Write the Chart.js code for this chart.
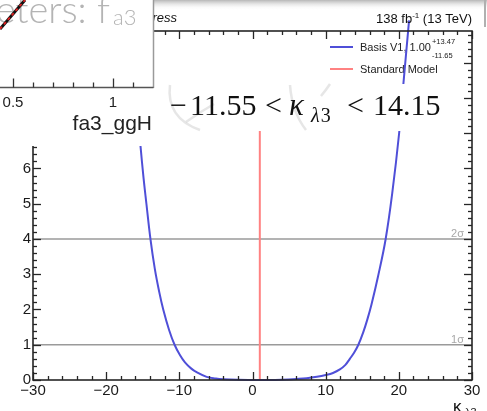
<!DOCTYPE html>
<html>
<head>
<meta charset="utf-8">
<script src="https://cdn.jsdelivr.net/npm/chart.js@4/dist/chart.umd.min.js"></script>
<style>
  html, body { margin: 0; padding: 0; background: #fff; }
  #wrap { width: 487px; height: 411px; position: relative; overflow: hidden; }
</style>
</head>
<body>
<div id="wrap"><canvas id="scan" width="487" height="411"></canvas></div>
<script>
// Likelihood scan of the trilinear coupling modifier: 2ΔNLL versus κλ3
const kappaL3 = [-15.45, -15.3, -14.9, -14.5, -13.95, -13.35, -12.75, -12.2, -11.4, -10.65, -9.9, -9.23, -8.4, -7.64,
                 -6.27, -5.0, -4.0, -2.0, 0.0, 1.0, 2.0, 4.0, 6.0, 7.4, 8.8, 10.0, 11.0, 11.94, 12.7, 13.3, 13.9,
                 14.47, 15.13, 15.7, 16.27, 17.17, 18.2, 19.1, 20.04, 20.58, 21.4];
const twoDeltaNLL = [7.0, 6.62, 5.75, 5.0, 4.0, 3.15, 2.5, 2.0, 1.42, 1.0, 0.7, 0.5, 0.33, 0.22,
                     0.09, 0.04, 0.02, 0.004, 0.0, 0.0, 0.0, 0.01, 0.03, 0.05, 0.09, 0.14, 0.2, 0.3, 0.43, 0.6, 0.78,
                     1.0, 1.35, 1.72, 2.15, 2.95, 4.0, 5.3, 7.0, 8.3, 10.2];

const xTickValues = [-30, -20, -10, 0, 10, 20, 30];
const yTickValues = [0, 1, 2, 3, 4, 5, 6, 7, 8, 9];

const sigmaLevels = [1, 4];
const sigmaLabels = ['1σ', '2σ'];

const smKappa = 1;
const smSpan = [0, 7.5];

const legendLabels = ['Basis V1, 1.00', 'Standard Model'];
const bestFitErrors = ['+13.47', '-11.65'];

const intervalLow = '−11.55';
const intervalHigh = '14.15';

const insetTickValues = [0.5, 1];
const insetTickLabels = ['0.5', '1'];
const insetAxisTitle = 'fa3_ggH';

const BLUE = '#4f4fd8';
const RED = '#ff8282';
const SANS = '"Liberation Sans", Arial, Helvetica, sans-serif';
const SERIF = '"Liberation Serif", "Times New Roman", serif';

function line(ctx, x1, y1, x2, y2) {
  ctx.beginPath(); ctx.moveTo(x1, y1); ctx.lineTo(x2, y2); ctx.stroke();
}

// ROOT-style frame with inward ticks on all four sides
function drawFrame(chart) {
  const { ctx, chartArea: a, scales: { x, y } } = chart;
  ctx.save();
  ctx.strokeStyle = '#262626';
  ctx.lineWidth = 1.6;
  ctx.strokeRect(a.left, a.top, a.right - a.left, a.bottom - a.top);
  ctx.lineWidth = 1.3;
  for (let v = x.min; v <= x.max + 1e-9; v += 2) {
    const px = Math.round(x.getPixelForValue(v)) + 0.5;
    const len = Math.abs(v % 10) < 1e-9 ? 8 : 4;
    line(ctx, px, a.bottom, px, a.bottom - len);
    line(ctx, px, a.top, px, a.top + len);
  }
  for (let i = 0; ; i++) {
    const v = i * 0.2;
    if (v > y.max + 1e-9) break;
    const py = Math.round(y.getPixelForValue(v)) + 0.5;
    const len = i % 5 === 0 ? 8 : 4;
    line(ctx, a.left, py, a.left + len, py);
    line(ctx, a.right, py, a.right - len, py);
  }
  // 1σ / 2σ tags
  ctx.fillStyle = '#a8a8a8';
  ctx.font = '11px ' + SANS;
  ctx.textAlign = 'right';
  ctx.textBaseline = 'alphabetic';
  sigmaLevels.forEach((lv, i) => {
    ctx.fillText(sigmaLabels[i], 464, y.getPixelForValue(lv) - 2);
  });
  ctx.restore();
}

function drawLegend(ctx) {
  ctx.save();
  ctx.lineWidth = 2;
  ctx.strokeStyle = BLUE;
  line(ctx, 330, 47, 353, 47);
  ctx.strokeStyle = RED;
  line(ctx, 330, 69, 353, 69);
  ctx.fillStyle = '#222';
  ctx.textAlign = 'left';
  ctx.textBaseline = 'alphabetic';
  ctx.font = '11px ' + SANS;
  ctx.fillText(legendLabels[0], 360, 50.5);
  const w = ctx.measureText(legendLabels[0]).width;
  ctx.fillText(legendLabels[1], 360, 73);
  ctx.font = '7.5px ' + SANS;
  ctx.fillText(bestFitErrors[0], 360 + w + 1, 43.5);
  ctx.fillText(bestFitErrors[1], 360 + w + 1, 57.5);
  ctx.restore();
}

function drawHeader(ctx) {
  ctx.save();
  // soft shadow strip along the top edge
  const g = ctx.createLinearGradient(0, 0, 0, 10);
  g.addColorStop(0, 'rgba(170,170,170,0.85)');
  g.addColorStop(1, 'rgba(255,255,255,0)');
  ctx.fillStyle = g;
  ctx.fillRect(153, 0, 334, 10);
  ctx.strokeStyle = '#b0b0b0';
  ctx.lineWidth = 2;
  line(ctx, 485, 0, 485, 27);

  ctx.fillStyle = '#111';
  ctx.textBaseline = 'alphabetic';
  ctx.textAlign = 'right';
  ctx.font = 'italic 13px ' + SANS;
  ctx.fillText('Work in progress', 177, 22);

  ctx.textAlign = 'left';
  const p1 = '138 fb', sup = '-1', p2 = ' (13 TeV)';
  ctx.font = '13px ' + SANS;
  const w1 = ctx.measureText(p1).width, w3 = ctx.measureText(p2).width;
  ctx.font = '8px ' + SANS;
  const w2 = ctx.measureText(sup).width;
  let x0 = 472 - (w1 + w2 + w3);
  ctx.font = '13px ' + SANS;
  ctx.fillText(p1, x0, 23);
  ctx.font = '8px ' + SANS;
  ctx.fillText(sup, x0 + w1, 18);
  ctx.font = '13px ' + SANS;
  ctx.fillText(p2, x0 + w1 + w2, 23);

  // x-axis title κλ3
  ctx.font = '17px ' + SANS;
  ctx.fillText('κ', 453, 411.5);
  ctx.font = '11px ' + SANS;
  ctx.fillText('λ3', 465, 416);
  ctx.restore();
}

function drawInterval(ctx) {
  ctx.save();
  ctx.fillStyle = '#fff';
  ctx.fillRect(153, 84, 309, 47);
  // faint strokes behind the formula
  ctx.strokeStyle = 'rgba(205,205,205,0.5)';
  ctx.lineWidth = 2.5;
  ctx.beginPath(); ctx.moveTo(170, 85); ctx.quadraticCurveTo(166, 118, 200, 130); ctx.stroke();
  ctx.beginPath(); ctx.moveTo(186, 122); ctx.quadraticCurveTo(200, 112, 214, 104); ctx.stroke();
  ctx.beginPath(); ctx.moveTo(290, 85); ctx.quadraticCurveTo(292, 112, 306, 130); ctx.stroke();
  ctx.beginPath(); ctx.moveTo(330, 84); ctx.quadraticCurveTo(326, 90, 321, 96); ctx.stroke();

  ctx.fillStyle = '#111';
  ctx.textAlign = 'left';
  ctx.textBaseline = 'alphabetic';
  ctx.font = '30px ' + SERIF;
  ctx.fillText(intervalLow.charAt(0), 170, 115);
  ctx.fillText(intervalLow.slice(1), 190, 115);
  ctx.fillText('<', 265, 115);
  ctx.font = 'italic 31px ' + SERIF;
  ctx.fillText('κ', 289, 115);
  ctx.font = 'italic 20px ' + SERIF;
  ctx.fillText('λ', 311, 121.5);
  const wl = ctx.measureText('λ').width;
  ctx.font = '20px ' + SERIF;
  ctx.fillText('3', 312 + wl, 121.5);
  ctx.font = '30px ' + SERIF;
  ctx.fillText('<', 347, 115);
  ctx.fillText(intervalHigh, 373, 115);
  ctx.restore();
}

function drawInset(ctx) {
  ctx.save();
  ctx.fillStyle = '#fff';
  ctx.fillRect(0, 0, 153, 146);

  // big grey heading of the neighbouring panel
  ctx.fillStyle = '#b4b4b4';
  ctx.textBaseline = 'alphabetic';
  ctx.textAlign = 'right';
  ctx.font = '300 38px Lato, "Open Sans", sans-serif';
  ctx.fillText('Parameters: f', 110, 23);
  ctx.textAlign = 'left';
  ctx.font = '300 22px Lato, "Open Sans", sans-serif';
  ctx.fillText('a3', 113, 25);

  // diagonal scan line in the corner
  ctx.lineWidth = 3;
  ctx.strokeStyle = '#111';
  line(ctx, 0, 29, 25, 0);
  ctx.lineWidth = 1.8;
  ctx.strokeStyle = '#e02020';
  ctx.setLineDash([3, 3]);
  line(ctx, 0, 29, 25, 0);
  ctx.setLineDash([]);

  // frame pieces and axis
  ctx.strokeStyle = '#9a9a9a';
  ctx.lineWidth = 1.5;
  line(ctx, 153.5, 0, 153.5, 88);
  ctx.strokeStyle = '#555';
  line(ctx, 0, 87.5, 153.5, 87.5);
  const px = v => (v - 0.435) * 200;
  ctx.strokeStyle = '#333';
  ctx.lineWidth = 1.3;
  for (let v = 0.4; v <= 1.2 + 1e-9; v += 0.1) {
    const p = Math.round(px(v)) + 0.5;
    if (p < 0 || p > 152) continue;
    const major = insetTickValues.some(t => Math.abs(t - v) < 1e-6);
    line(ctx, p, 87.5, p, 87.5 - (major ? 9 : 5));
  }
  ctx.fillStyle = '#222';
  ctx.font = '15px ' + SANS;
  ctx.textAlign = 'center';
  insetTickValues.forEach((v, i) => ctx.fillText(insetTickLabels[i], px(v), 107));
  ctx.textAlign = 'right';
  ctx.font = '21px ' + SANS;
  ctx.fillText(insetAxisTitle, 152, 130);
  ctx.restore();
}

const decorations = {
  id: 'decorations',
  beforeDatasetsDraw(chart) { drawLegend(chart.ctx); },
  afterDatasetsDraw(chart) { drawFrame(chart); },
  afterDraw(chart) {
    const ctx = chart.ctx;
    drawInterval(ctx);
    drawHeader(ctx);
    drawInset(ctx);
  }
};

const tickFont = { family: SANS, size: 15 };

new Chart(document.getElementById('scan'), {
  type: 'line',
  data: {
    datasets: [
      {
        label: 'Basis V1',
        data: kappaL3.map((k, i) => ({ x: k, y: twoDeltaNLL[i] })),
        borderColor: BLUE, borderWidth: 2, pointRadius: 0,
        tension: 0.4, clip: false, order: 0
      },
      {
        label: 'Standard Model',
        data: [{ x: smKappa, y: smSpan[0] }, { x: smKappa, y: smSpan[1] }],
        borderColor: RED, borderWidth: 2, pointRadius: 0, order: 1
      },
      ...sigmaLevels.map((lv, i) => ({
        label: sigmaLabels[i],
        data: [{ x: -30, y: lv }, { x: 30, y: lv }],
        borderColor: '#9a9a9a', borderWidth: 1.5, pointRadius: 0, order: 2
      }))
    ]
  },
  options: {
    responsive: false,
    animation: false,
    devicePixelRatio: 1,
    layout: { padding: { left: 0, top: 31, right: 15, bottom: 0 } },
    plugins: { legend: { display: false }, tooltip: { enabled: false } },
    scales: {
      x: {
        type: 'linear', min: -30, max: 30,
        afterBuildTicks: s => { s.ticks = xTickValues.map(v => ({ value: v })); },
        afterFit: s => { s.height = 31; },
        grid: { display: false, drawTicks: false },
        border: { display: false },
        ticks: {
          font: tickFont, color: '#1a1a1a', padding: 2, autoSkip: false, maxRotation: 0,
          callback: v => (v < 0 ? '\u2212' + (-v) : String(v))
        }
      },
      y: {
        type: 'linear', min: 0, max: 9.9,
        afterBuildTicks: s => { s.ticks = yTickValues.map(v => ({ value: v })); },
        afterFit: s => { s.width = 33; },
        grid: { display: false, drawTicks: false },
        border: { display: false },
        ticks: { font: tickFont, color: '#1a1a1a', padding: 2, autoSkip: false }
      }
    }
  },
  plugins: [decorations]
});
</script>
</body>
</html>
